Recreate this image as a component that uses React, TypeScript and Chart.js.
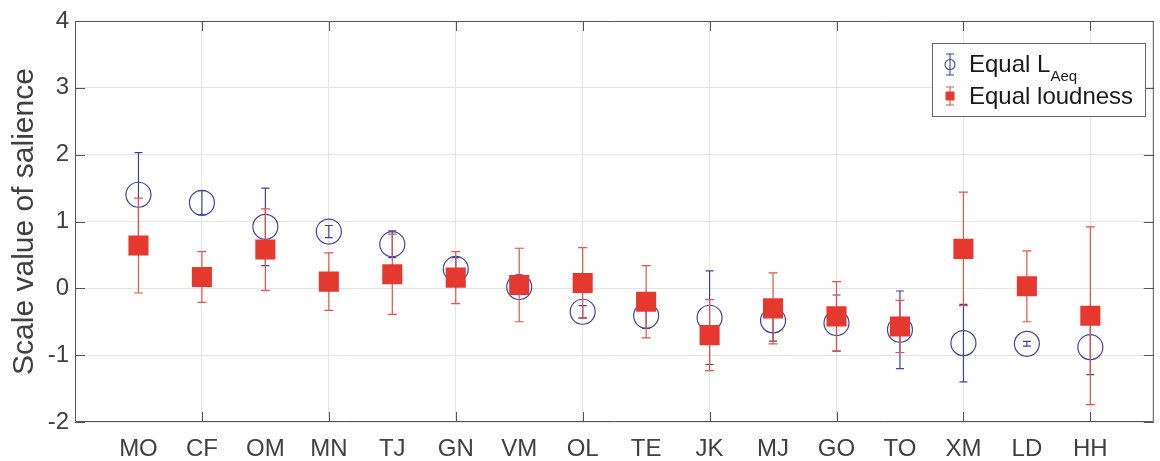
import React, { useEffect, useRef } from "react";
import { Chart, registerables } from "chart.js";

Chart.register(...registerables);

const categories = ["MO", "CF", "OM", "MN", "TJ", "GN", "VM", "OL", "TE", "JK", "MJ", "GO", "TO", "XM", "LD", "HH"];
const laeqMean = [1.4, 1.28, 0.92, 0.85, 0.66, 0.29, 0.02, -0.35, -0.41, -0.44, -0.48, -0.52, -0.62, -0.82, -0.83, -0.88];
const laeqErr = [0.63, 0.18, 0.58, 0.09, 0.2, 0.17, 0.06, 0.09, 0.19, 0.7, 0.31, 0.42, 0.58, 0.58, 0.035, 0.41];
const loudMean = [0.64, 0.17, 0.58, 0.1, 0.21, 0.16, 0.05, 0.08, -0.2, -0.7, -0.3, -0.42, -0.57, 0.59, 0.03, -0.41];
const loudErr = [0.71, 0.38, 0.61, 0.43, 0.6, 0.39, 0.55, 0.53, 0.54, 0.53, 0.53, 0.52, 0.39, 0.85, 0.53, 1.33];
const yTicks = [-2, -1, 0, 1, 2, 3, 4];
const seriesNames = ["Equal L", "Equal loudness"];
const subscript = "Aeq";
const yTitle = "Scale value of salience";

const BLUE = "#3d44a0";
const RED = "#e5392f";
const RED_LINE = "#e4544b";
const FONT = '"Liberation Sans", Arial, sans-serif';

const errSets = [
  { mean: laeqMean, err: laeqErr, color: BLUE, cap: 8 },
  { mean: loudMean, err: loudErr, color: RED_LINE, cap: 9 },
];

const framePlugin = {
  id: "frame",
  beforeDatasetDraw(chart: any, args: any) {
    const set = errSets[args.index];
    if (!set) return;
    const { ctx } = chart;
    const xs = chart.scales.x;
    const ys = chart.scales.y;
    ctx.save();
    ctx.strokeStyle = set.color;
    ctx.lineWidth = 1.2;
    set.mean.forEach((m: number, i: number) => {
      const px = xs.getPixelForValue(i + 1);
      const top = ys.getPixelForValue(m + set.err[i]);
      const bot = ys.getPixelForValue(m - set.err[i]);
      const h = set.cap / 2;
      ctx.beginPath();
      ctx.moveTo(px, top);
      ctx.lineTo(px, bot);
      ctx.moveTo(px - h, top);
      ctx.lineTo(px + h, top);
      ctx.moveTo(px - h, bot);
      ctx.lineTo(px + h, bot);
      ctx.stroke();
    });
    ctx.restore();
  },
  afterDraw(chart: any) {
    const { ctx, chartArea: a } = chart;
    const xs = chart.scales.x;
    const ys = chart.scales.y;
    ctx.save();
    ctx.strokeStyle = "#555555";
    ctx.lineWidth = 1;
    ctx.beginPath();
    ctx.rect(a.left + 0.5, a.top + 0.5, a.right - a.left - 1, a.bottom - a.top - 1);
    ctx.stroke();
    const tl = 10;
    ctx.beginPath();
    yTicks.forEach((v) => {
      const py = Math.round(ys.getPixelForValue(v)) + 0.5;
      ctx.moveTo(a.left, py);
      ctx.lineTo(a.left + tl, py);
      ctx.moveTo(a.right, py);
      ctx.lineTo(a.right - tl, py);
    });
    categories.forEach((_, i) => {
      const v = i + 1;
      if (v % 2 !== 0) return;
      const px = Math.round(xs.getPixelForValue(v)) + 0.5;
      ctx.moveTo(px, a.bottom);
      ctx.lineTo(px, a.bottom - tl);
      ctx.moveTo(px, a.top);
      ctx.lineTo(px, a.top + tl);
    });
    ctx.stroke();

    // legend
    const lx = 932, ly = 43, lw = 213, lh = 73;
    ctx.fillStyle = "#ffffff";
    ctx.fillRect(lx, ly, lw, lh);
    ctx.strokeStyle = "#666666";
    ctx.strokeRect(lx + 0.5, ly + 0.5, lw, lh);
    const sx = 950;
    ctx.strokeStyle = BLUE;
    ctx.lineWidth = 1.1;
    ctx.beginPath();
    ctx.moveTo(sx, 54); ctx.lineTo(sx, 75);
    ctx.moveTo(sx - 4, 54); ctx.lineTo(sx + 4, 54);
    ctx.moveTo(sx - 4, 75); ctx.lineTo(sx + 4, 75);
    ctx.stroke();
    ctx.beginPath();
    ctx.arc(sx, 64.5, 5, 0, Math.PI * 2);
    ctx.stroke();
    ctx.strokeStyle = RED_LINE;
    ctx.beginPath();
    ctx.moveTo(sx, 87); ctx.lineTo(sx, 105);
    ctx.moveTo(sx - 4, 87); ctx.lineTo(sx + 4, 87);
    ctx.moveTo(sx - 4, 105); ctx.lineTo(sx + 4, 105);
    ctx.stroke();
    ctx.fillStyle = RED;
    ctx.fillRect(sx - 4.5, 91.5, 9, 9);

    ctx.fillStyle = "#1a1a1a";
    ctx.textBaseline = "alphabetic";
    ctx.textAlign = "left";
    ctx.font = `24px ${FONT}`;
    ctx.fillText(seriesNames[0], 969, 72);
    const w = ctx.measureText(seriesNames[0]).width;
    ctx.font = `15px ${FONT}`;
    ctx.fillText(subscript, 969 + w, 81);
    ctx.font = `24px ${FONT}`;
    ctx.fillText(seriesNames[1], 969, 104);
    ctx.restore();
  },
};

export default function App() {
  const ref = useRef<HTMLCanvasElement | null>(null);
  useEffect(() => {
    if (!ref.current) return;
    const chart = new Chart(ref.current, {
      type: "scatter",
      data: {
        datasets: [
          {
            label: seriesNames[0] + subscript,
            data: laeqMean.map((v, i) => ({ x: i + 1, y: v })),
            pointStyle: "circle",
            pointRadius: 12.5,
            pointBorderWidth: 1.2,
            pointBorderColor: BLUE,
            pointBackgroundColor: "rgba(0,0,0,0)",
            showLine: false,
            order: 2,
          },
          {
            label: seriesNames[1],
            data: loudMean.map((v, i) => ({ x: i + 1, y: v })),
            pointStyle: "rect",
            pointRadius: 14.2,
            pointBorderWidth: 0,
            pointBorderColor: RED,
            pointBackgroundColor: RED,
            showLine: false,
            order: 1,
          },
        ],
      },
      options: {
        animation: false,
        responsive: false,
        layout: { padding: { top: 21, right: 1.6, left: 0, bottom: 0 } },
        plugins: { legend: { display: false }, tooltip: { enabled: false } },
        scales: {
          x: {
            type: "linear",
            min: 0,
            max: 17,
            afterFit: (s: any) => {
              s.height = 39;
            },
            afterBuildTicks: (s: any) => {
              const t = [];
              for (let v = 0; v <= 17; v++) t.push({ value: v });
              s.ticks = t;
            },
            ticks: {
              autoSkip: false,
              maxRotation: 0,
              padding: 13,
              color: "#404040",
              font: { family: FONT, size: 24 },
              callback: (v: any) => categories[Number(v) - 1] ?? "",
            },
            grid: {
              drawTicks: false,
              color: (c: any) => {
                const v = c.tick?.value;
                return v !== undefined && v % 2 === 0 && v > 0 && v < 17 ? "#e4e4e4" : "rgba(0,0,0,0)";
              },
            },
            border: { display: false },
          },
          y: {
            min: -2,
            max: 4,
            afterFit: (s: any) => {
              s.width = 75;
            },
            afterBuildTicks: (s: any) => {
              s.ticks = yTicks.map((v) => ({ value: v }));
            },
            ticks: {
              padding: 6,
              color: "#404040",
              font: { family: FONT, size: 24 },
              callback: (v: any) => String(v),
            },
            grid: { drawTicks: false, color: "#e4e4e4" },
            border: { display: false },
            title: {
              display: true,
              text: yTitle,
              color: "#404040",
              font: { family: FONT, size: 30 },
              padding: { top: 7, bottom: 0 },
            },
          },
        },
      },
      plugins: [framePlugin],
    });
    return () => chart.destroy();
  }, []);
  return (
    <div style={{ position: "absolute", left: 0, top: 0, width: 1160, height: 461, overflow: "hidden", background: "#fff" }}>
      <canvas ref={ref} width={1168} height={461} style={{ display: "block" }} />
    </div>
  );
}
